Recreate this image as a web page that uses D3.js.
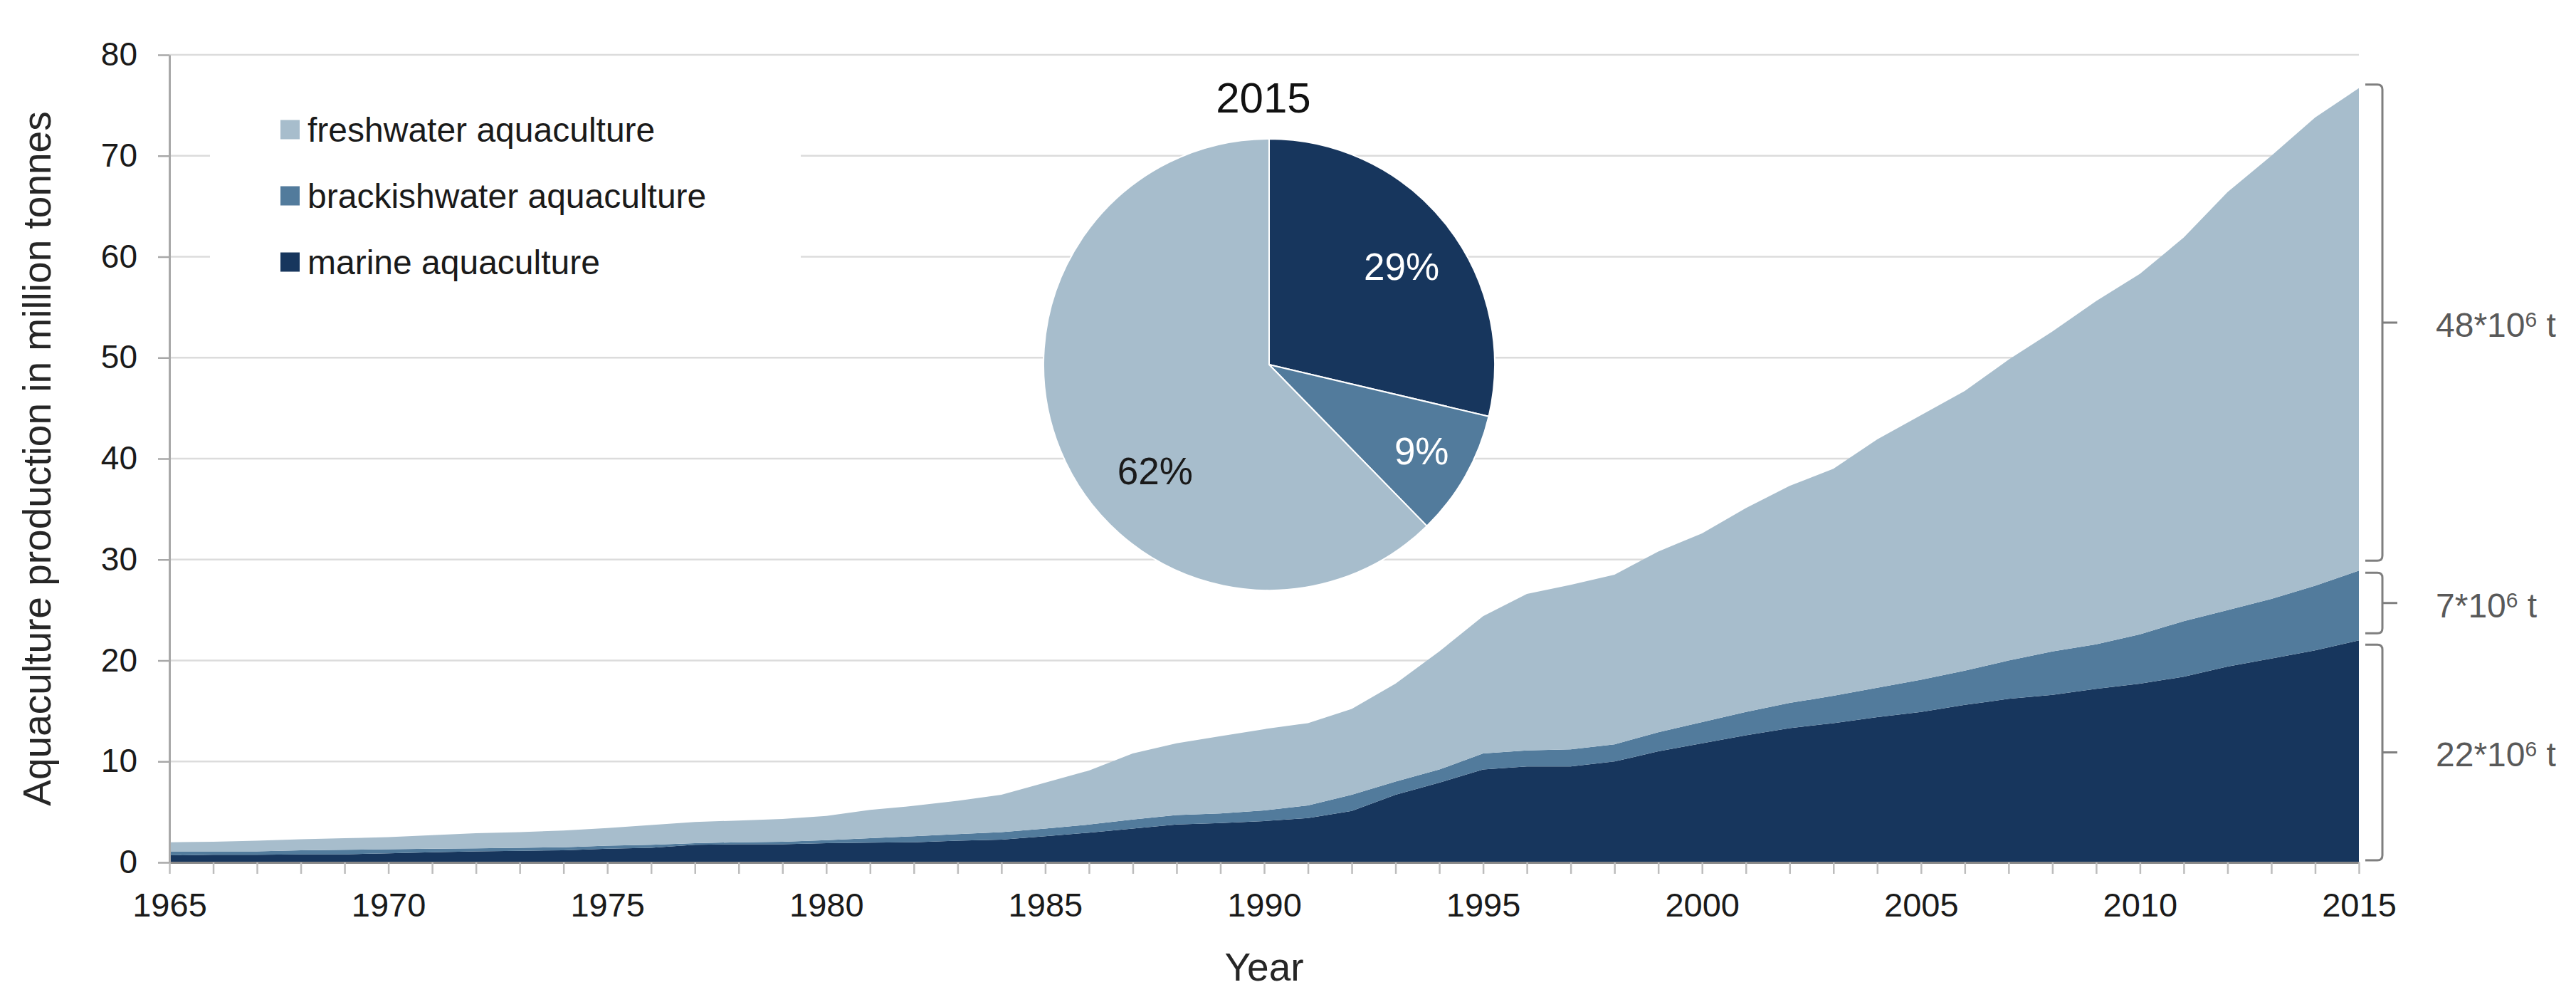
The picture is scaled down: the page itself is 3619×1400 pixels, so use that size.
<!DOCTYPE html>
<html><head><meta charset="utf-8">
<script src="https://cdn.jsdelivr.net/npm/d3@7"></script>
<style>body{margin:0;background:#fff}</style>
</head><body><svg id="chart" width="3619" height="1400"></svg>
<script>
// ---------------- DATA ----------------
const years = [1965,1966,1967,1968,1969,1970,1971,1972,1973,1974,1975,1976,1977,1978,1979,1980,
  1981,1982,1983,1984,1985,1986,1987,1988,1989,1990,1991,1992,1993,1994,1995,1996,1997,1998,1999,2000,
  2001,2002,2003,2004,2005,2006,2007,2008,2009,2010,2011,2012,2013,2014,2015];
// million tonnes
const marine = [0.7,0.75,0.75,0.8,0.8,0.9,1.0,1.1,1.15,1.2,1.35,1.45,1.75,1.8,1.8,1.9,
  1.95,2.0,2.15,2.25,2.6,2.95,3.35,3.75,3.9,4.1,4.4,5.1,6.7,7.9,9.2,9.5,9.5,10.0,11.0,11.8,
  12.6,13.3,13.8,14.4,14.9,15.6,16.2,16.6,17.2,17.7,18.4,19.4,20.2,21.0,22.0];
const brackish = [0.4,0.35,0.35,0.4,0.45,0.4,0.35,0.3,0.3,0.3,0.3,0.3,0.15,0.2,0.25,0.3,
  0.45,0.6,0.65,0.75,0.75,0.8,0.9,0.95,0.95,1.05,1.25,1.6,1.3,1.3,1.6,1.6,1.7,1.7,1.9,2.1,
  2.3,2.5,2.7,2.9,3.2,3.4,3.8,4.3,4.4,4.9,5.5,5.6,5.9,6.4,6.9];
const freshwater = [0.9,0.95,1.05,1.1,1.15,1.2,1.35,1.5,1.55,1.65,1.75,1.95,2.1,2.15,2.25,2.4,
  2.8,3.0,3.3,3.7,4.55,5.35,6.55,7.1,7.65,8.05,8.15,8.5,9.7,11.7,13.6,15.5,16.3,16.8,17.9,18.7,
  20.2,21.5,22.5,24.6,26.2,27.7,29.8,31.7,34.0,35.7,38.0,41.4,43.9,46.4,47.8];
const seriesKeys = ["marine","brackish","freshwater"];
const legendLabels = ["freshwater aquaculture","brackishwater aquaculture","marine aquaculture"];
const legendKeys = ["freshwater","brackish","marine"];
const yTickValues = [0,10,20,30,40,50,60,70,80];
const xLabelYears = [1965,1970,1975,1980,1985,1990,1995,2000,2005,2010,2015];
const pieYear = 2015;
const yTitle = "Aquaculture production in million tonnes";
const xTitle = "Year";

// ---------------- STYLE ----------------
const FONT = '"Liberation Sans", Arial, Helvetica, sans-serif';
const colors = {marine:"#17365D", brackish:"#527B9C", freshwater:"#A7BDCC"};
const textColor = "#1a1a1a";

const svg = d3.select("#chart").attr("font-family", FONT);
const x = d3.scaleLinear().domain([years[0], years[years.length-1]]).range([238, 3314]);
const y = d3.scaleLinear().domain([0, 80]).range([1211, 77]);

// gridlines
svg.append("g").selectAll("line").data(yTickValues.filter(d => d > 0)).join("line")
  .attr("x1", x.range()[0]).attr("x2", x.range()[1])
  .attr("y1", d => y(d)).attr("y2", d => y(d))
  .attr("stroke", "#dcdcdc").attr("stroke-width", 2.5);

// stacked areas
const table = years.map((yr, i) => ({year: yr, marine: marine[i], brackish: brackish[i], freshwater: freshwater[i]}));
const layers = d3.stack().keys(seriesKeys)(table);
const area = d3.area().x(d => x(d.data.year)).y0(d => y(d[0])).y1(d => y(d[1]));
svg.append("g").selectAll("path").data(layers).join("path")
  .attr("d", area).attr("fill", d => colors[d.key]);

// x axis
const xAxis = d3.axisBottom(x).tickValues(years).tickSize(16).tickSizeOuter(0).tickPadding(27)
  .tickFormat(d => xLabelYears.includes(d) ? String(d) : "");
const gx = svg.append("g").attr("transform", `translate(0,${y(0)})`).call(xAxis);
gx.select(".domain").attr("stroke", "#888").attr("stroke-width", 3);
gx.selectAll(".tick line").attr("stroke", "#bdbdbd").attr("stroke-width", 2.5);
gx.selectAll(".tick text").attr("font-size", 47).attr("font-family", FONT).attr("fill", textColor);

// y axis
const yAxis = d3.axisLeft(y).tickValues(yTickValues).tickSize(16).tickSizeOuter(0).tickPadding(29);
const gy = svg.append("g").attr("transform", `translate(${x.range()[0]},0)`).call(yAxis);
gy.select(".domain").attr("stroke", "#a8a8a8").attr("stroke-width", 3);
gy.selectAll(".tick line").attr("stroke", "#a8a8a8").attr("stroke-width", 2.5);
gy.selectAll(".tick text").attr("font-size", 46).attr("font-family", FONT).attr("fill", textColor);

// axis titles
svg.append("text").attr("transform", `translate(71,${(y(0)+y(80))/2}) rotate(-90)`)
  .attr("text-anchor", "middle").attr("font-size", 55).attr("fill", "#262626").text(yTitle);
svg.append("text").attr("x", (x.range()[0]+x.range()[1])/2).attr("y", 1377)
  .attr("text-anchor", "middle").attr("font-size", 55).attr("fill", "#262626").text(xTitle);

// legend
const lg = svg.append("g");
lg.append("rect").attr("x", 295).attr("y", 110).attr("width", 830).attr("height", 320).attr("fill", "#fff");
const li = lg.selectAll("g.item").data(legendKeys).join("g").attr("class", "item")
  .attr("transform", (d, i) => `translate(394,${182 + i*93})`);
li.append("rect").attr("x", 0).attr("y", -13.5).attr("width", 27).attr("height", 27).attr("fill", d => colors[d]);
li.append("text").attr("x", 38).attr("dy", "0.35em").attr("font-size", 48).attr("fill", textColor)
  .text((d, i) => legendLabels[i]);

// pie for last year
const li0 = years.indexOf(pieYear);
const pieData = seriesKeys.map(k => ({key: k, value: table[li0][k]}));
const total = d3.sum(pieData, d => d.value);
const pie = d3.pie().sort(null).value(d => d.value);
const arcs = pie(pieData);
const R = 317;
const cx = 1783, cy = 512;
const pg = svg.append("g").attr("transform", `translate(${cx},${cy})`);
pg.selectAll("path").data(arcs).join("path")
  .attr("d", d3.arc().innerRadius(0).outerRadius(R))
  .attr("fill", d => colors[d.data.key]).attr("stroke", "#fff").attr("stroke-width", 2);
const labelCfg = {marine: {r: 232, shift: 0.03, fill: "#fff"},
                  brackish: {r: 246, shift: 0, fill: "#fff"},
                  freshwater: {r: 219, shift: -0.363, fill: textColor}};
pg.selectAll("text.pct").data(arcs).join("text").attr("class", "pct")
  .each(function(d) {
    const c = labelCfg[d.data.key];
    const a = (d.startAngle + d.endAngle)/2 + c.shift;
    d3.select(this).attr("x", c.r*Math.sin(a)).attr("y", -c.r*Math.cos(a)).attr("fill", c.fill);
  })
  .attr("text-anchor", "middle").attr("dy", "0.36em").attr("font-size", 53)
  .text(d => Math.round(d.value/total*100) + "%");
svg.append("text").attr("x", 1775).attr("y", 158).attr("text-anchor", "middle")
  .attr("font-size", 60).attr("fill", "#111").text(String(pieYear));

// brackets for last-year values
const last = years.length - 1;
const bracketPad = {freshwater: {t: -5, b: -14}, brackish: {t: 3, b: -10}, marine: {t: 6, b: -3}};
const bx = 3347, bl = 3323, btick = 3368, rr = 7;
const bg = svg.append("g");
layers.forEach(layer => {
  const d = layer[last];
  const p = bracketPad[layer.key];
  const top = y(d[1]) + p.t, bot = y(d[0]) + p.b, mid = (top + bot)/2;
  bg.append("path")
    .attr("d", `M${bl},${top} H${bx-rr} Q${bx},${top} ${bx},${top+rr} V${bot-rr} Q${bx},${bot} ${bx-rr},${bot} H${bl} M${bx},${mid} H${btick}`)
    .attr("fill", "none").attr("stroke", "#7f7f7f").attr("stroke-width", 3);
  const t = bg.append("text").attr("x", 3422).attr("y", mid + 3).attr("dy", "0.35em")
    .attr("font-size", 48).attr("fill", "#595959");
  t.append("tspan").text(Math.round(d[1] - d[0]) + "*10");
  t.append("tspan").attr("dy", -14).attr("font-size", 30).text("6");
  t.append("tspan").attr("dy", 14).text(" t");
});
</script>
</body></html>
